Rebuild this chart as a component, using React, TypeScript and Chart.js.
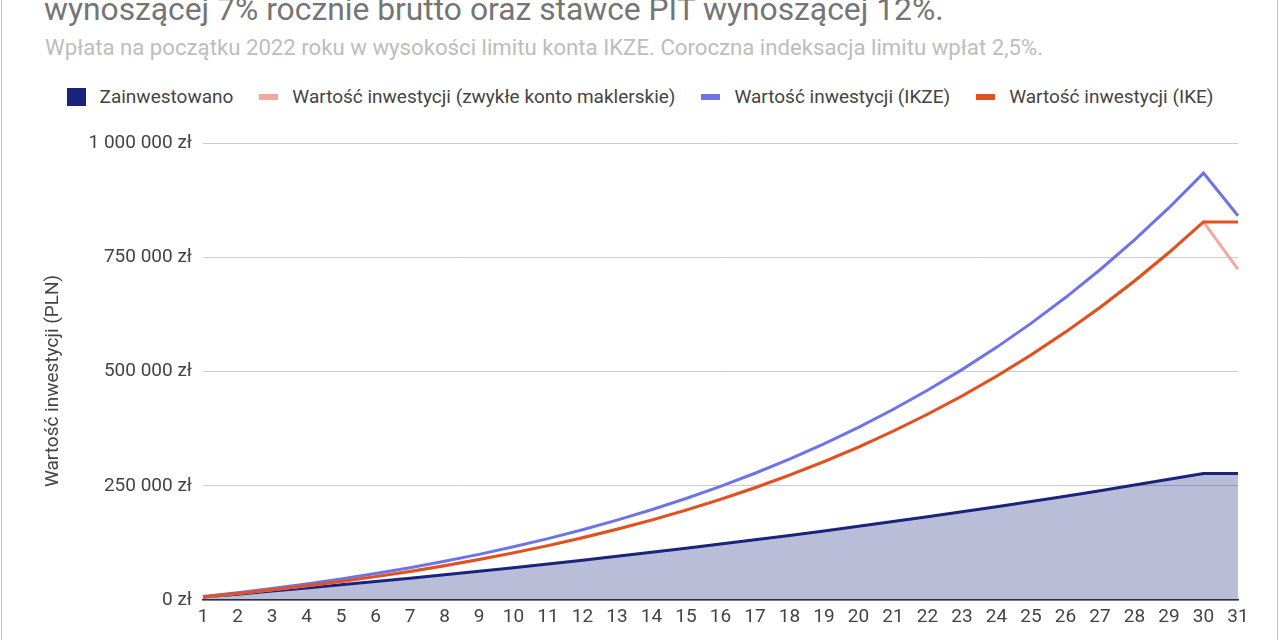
import React, { useEffect, useRef } from 'react';
import { Chart, registerables } from 'chart.js';

Chart.register(...registerables);

// Lata oszczędzania (oś X)
const years: string[] = Array.from({ length: 31 }, (_, i) => String(i + 1));

// Wartości (PLN)
const invested: number[] = [
  6310, 12780, 19410, 26200, 33170, 40310, 47620, 55130, 62810, 70690,
  78770, 87050, 95540, 104240, 113150, 122290, 131660, 141260, 151100, 161190,
  171530, 182120, 192990, 204120, 215540, 227230, 239230, 251520, 264110, 277030,
  277030,
];

const brokerage: number[] = [
  6750, 14150, 22230, 31060, 40680, 51170, 62580, 74990, 88460, 103090,
  118940, 136130, 154740, 174880, 196660, 220200, 245640, 273110, 302750, 334740,
  369240, 406420, 446490, 489660, 536150, 586200, 640060, 698020, 760360, 827400,
  723500,
];

const ikze: number[] = [
  7620, 15970, 25100, 35060, 45930, 57770, 70650, 84660, 99870, 116380,
  134290, 153690, 174700, 197430, 222020, 248610, 277330, 308340, 341810, 377920,
  416870, 458850, 504090, 552830, 605310, 661820, 722630, 788060, 858450, 934140,
  840700,
];

const ike: number[] = [
  6750, 14150, 22230, 31060, 40680, 51170, 62580, 74990, 88460, 103090,
  118940, 136130, 154740, 174880, 196660, 220200, 245640, 273110, 302750, 334740,
  369240, 406420, 446490, 489660, 536150, 586200, 640060, 698020, 760360, 827400,
  827400,
];

const yTicks: number[] = [0, 250000, 500000, 750000, 1000000];

const FONT = 'Roboto, "Noto Sans", Arial, sans-serif';

const legendItems = [
  { label: 'Zainwestowano', color: '#1a237e', square: true },
  { label: 'Wartość inwestycji (zwykłe konto maklerskie)', color: '#f2a99d', square: false },
  { label: 'Wartość inwestycji (IKZE)', color: '#6e74e6', square: false },
  { label: 'Wartość inwestycji (IKE)', color: '#e1521f', square: false },
];

const formatPln = (v: number) =>
  String(Math.round(v)).replace(/\B(?=(\d{3})+(?!\d))/g, ' ') + ' zł';

const InvestmentChart: React.FC = () => {
  const canvasRef = useRef<HTMLCanvasElement>(null);
  const chartRef = useRef<Chart | null>(null);

  useEffect(() => {
    if (chartRef.current) chartRef.current.destroy();
    const ctx = canvasRef.current?.getContext('2d');
    if (!ctx) return;

    chartRef.current = new Chart(ctx, {
      type: 'line',
      data: {
        labels: years,
        datasets: [
          {
            label: 'Zainwestowano',
            data: invested,
            borderColor: '#1a237e',
            backgroundColor: 'rgba(26, 35, 126, 0.3)',
            borderWidth: 3,
            fill: 'origin',
            pointRadius: 0,
            order: 3,
          },
          {
            label: 'Wartość inwestycji (zwykłe konto maklerskie)',
            data: brokerage,
            borderColor: '#f2a99d',
            borderWidth: 3,
            fill: false,
            pointRadius: 0,
            order: 2,
          },
          {
            label: 'Wartość inwestycji (IKZE)',
            data: ikze,
            borderColor: '#6e74e6',
            borderWidth: 3,
            fill: false,
            pointRadius: 0,
            order: 1,
          },
          {
            label: 'Wartość inwestycji (IKE)',
            data: ike,
            borderColor: '#e1521f',
            borderWidth: 3,
            fill: false,
            pointRadius: 0,
            order: 0,
          },
        ],
      },
      options: {
        animation: false,
        responsive: true,
        maintainAspectRatio: false,
        layout: { padding: { top: 23, right: 42, left: 0, bottom: 0 } },
        plugins: {
          legend: { display: false },
          tooltip: { enabled: false },
        },
        scales: {
          x: {
            offset: false,
            afterFit: (scale: any) => {
              scale.height = 40;
            },
            grid: { display: false, drawTicks: false },
            border: { display: true, color: '#333333', width: 1.5 },
            ticks: {
              autoSkip: false,
              maxRotation: 0,
              padding: 6,
              color: '#444444',
              font: { family: FONT, size: 19 },
            },
          },
          y: {
            min: 0,
            max: 1000000,
            afterFit: (scale: any) => {
              scale.width = 203;
            },
            afterBuildTicks: (scale: any) => {
              scale.ticks = yTicks.map((v) => ({ value: v }));
            },
            grid: { color: '#cccccc', lineWidth: 1, drawTicks: false },
            border: { display: false },
            ticks: {
              padding: 11,
              color: '#444444',
              font: { family: FONT, size: 19 },
              callback: (v: any) => formatPln(Number(v)),
            },
            title: {
              display: true,
              // trailing spaces nudge the rotated title slightly downwards
              text: 'Wartość inwestycji (PLN)    ',
              color: '#444444',
              font: { family: FONT, size: 19 },
              padding: { top: 42, bottom: 0 },
            },
          },
        },
      },
    });

    return () => {
      chartRef.current?.destroy();
      chartRef.current = null;
    };
  }, []);

  return (
    <div style={{ position: 'absolute', left: 0, top: 120, width: 1280, height: 520 }}>
      <canvas ref={canvasRef}></canvas>
    </div>
  );
};

const App: React.FC = () => {
  return (
    <div
      style={{
        position: 'fixed',
        left: 0,
        top: 0,
        width: 1280,
        height: 640,
        overflow: 'hidden',
        background: '#ffffff',
        fontFamily: FONT,
      }}
    >
      <div
        style={{
          position: 'absolute',
          left: 1,
          top: -10,
          width: 1275,
          height: 700,
          borderLeft: '1px solid #c4c4c4',
          borderRight: '1px solid #c4c4c4',
        }}
      />
      <div
        style={{
          position: 'absolute',
          left: 44,
          top: -7,
          fontSize: 31.8,
          lineHeight: '32px',
          color: '#757575',
          whiteSpace: 'nowrap',
        }}
      >
        wynoszącej 7% rocznie brutto oraz stawce PIT wynoszącej 12%.
      </div>
      <div
        style={{
          position: 'absolute',
          left: 45,
          top: 35.5,
          fontSize: 22.2,
          lineHeight: '22px',
          color: '#bdbdbd',
          whiteSpace: 'nowrap',
        }}
      >
        Wpłata na początku 2022 roku w wysokości limitu konta IKZE. Coroczna indeksacja limitu wpłat 2,5%.
      </div>
      <div
        style={{
          position: 'absolute',
          left: 0,
          top: 87,
          width: 1280,
          height: 20,
          display: 'flex',
          justifyContent: 'center',
          alignItems: 'center',
          gap: 26,
          fontSize: 19,
          color: '#444444',
          whiteSpace: 'nowrap',
        }}
      >
        {legendItems.map((item) => (
          <div key={item.label} style={{ display: 'flex', alignItems: 'center' }}>
            <span
              style={{
                display: 'inline-block',
                width: 19,
                height: item.square ? 18 : 6,
                background: item.color,
                marginRight: 14,
              }}
            />
            <span style={{ lineHeight: '20px' }}>{item.label}</span>
          </div>
        ))}
      </div>
      <InvestmentChart />
    </div>
  );
};

export default App;
